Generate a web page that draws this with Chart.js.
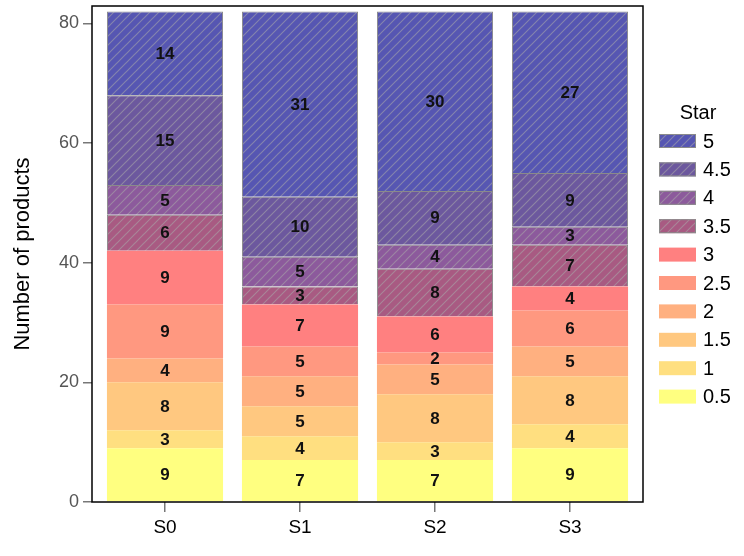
<!DOCTYPE html>
<html>
<head>
<meta charset="utf-8">
<script src="https://cdn.jsdelivr.net/npm/chart.js@4"></script>
<style>
  html, body { margin: 0; padding: 0; background: #fff; }
  #wrap { width: 744px; height: 556px; }
</style>
</head>
<body>
<div id="wrap"><canvas id="bar-chart" width="744" height="556"></canvas></div>
<script>
// data
const categories = ['S0', 'S1', 'S2', 'S3'];
const stars = ['0.5', '1', '1.5', '2', '2.5', '3', '3.5', '4', '4.5', '5'];
const s05 = [9, 7, 7, 9];
const s1 = [3, 4, 3, 4];
const s15 = [8, 5, 8, 8];
const s2 = [4, 5, 5, 5];
const s25 = [9, 5, 2, 6];
const s3 = [9, 7, 6, 4];
const s35 = [6, 3, 8, 7];
const s4 = [5, 5, 4, 3];
const s45 = [15, 10, 9, 9];
const s5 = [14, 31, 30, 27];
const yTicks = [0, 20, 40, 60, 80];

const seriesValues = [s05, s1, s15, s2, s25, s3, s35, s4, s45, s5];
const colors = ['#ffff80', '#ffdf80', '#ffc880', '#ffb080', '#ff9880', '#ff8080',
                '#a85a82', '#8c5a9c', '#6c589e', '#5656b2'];
const hatched = [false, false, false, false, false, false, true, true, true, true];
const FONT = '"Liberation Sans", Arial, sans-serif';

function hatch(color) {
  const c = document.createElement('canvas');
  c.width = 9; c.height = 9;
  const g = c.getContext('2d');
  g.fillStyle = color;
  g.fillRect(0, 0, 9, 9);
  g.strokeStyle = 'rgba(170,170,170,0.55)';
  g.lineWidth = 1.2;
  g.beginPath();
  g.moveTo(-1, 10); g.lineTo(10, -1);
  g.moveTo(-1, 1); g.lineTo(1, -1);
  g.moveTo(8, 10); g.lineTo(10, 8);
  g.stroke();
  return g.createPattern(c, 'repeat');
}

const datasets = stars.map(function(s, i) {
  return {
    label: s,
    data: seriesValues[i],
    backgroundColor: hatched[i] ? hatch(colors[i]) : colors[i],
    borderColor: hatched[i] ? '#8a8a8a' : colors[i],
    borderWidth: hatched[i] ? 1 : 0,
    barPercentage: 0.86,
    categoryPercentage: 1.0
  };
});

const extras = {
  id: 'extras',
  afterLayout(chart) {
    // bars sit a little further in from the frame than Chart.js offsets them
    const x = chart.scales.x;
    x._startPixel = chart.chartArea.left + 5.5;
    x._length = (chart.chartArea.right - chart.chartArea.left) - 11;
  },
  afterDatasetsDraw(chart) {
    const ctx = chart.ctx;
    ctx.save();
    ctx.font = 'bold 17px ' + FONT;
    ctx.fillStyle = '#111';
    ctx.textAlign = 'center';
    ctx.textBaseline = 'middle';
    chart.data.datasets.forEach(function(ds, i) {
      chart.getDatasetMeta(i).data.forEach(function(bar, j) {
        const mid = (bar.y + bar.base) / 2;
        ctx.fillText(String(ds.data[j]), bar.x, mid + 1);
      });
    });
    const a = chart.chartArea;
    ctx.strokeStyle = '#000';
    ctx.lineWidth = 1.5;
    ctx.strokeRect(a.left, a.top, a.right - a.left, a.bottom - a.top);
    ctx.restore();
  },
  afterDraw(chart) {
    const ctx = chart.ctx;
    ctx.save();
    ctx.font = '20px ' + FONT;
    ctx.fillStyle = '#000';
    ctx.textBaseline = 'middle';
    ctx.textAlign = 'center';
    ctx.fillText('Star', 698, 113);
    ctx.textAlign = 'left';
    const n = chart.data.datasets.length;
    for (let k = 0; k < n; k++) {
      const ds = chart.data.datasets[n - 1 - k];
      const y = 141 + k * 28.4;
      ctx.fillStyle = ds.backgroundColor;
      ctx.fillRect(659, y - 7, 37, 14);
      if (ds.borderWidth) {
        ctx.strokeStyle = ds.borderColor;
        ctx.lineWidth = 1;
        ctx.strokeRect(659.5, y - 6.5, 36, 13);
      }
      ctx.fillStyle = '#000';
      ctx.fillText(ds.label, 703, y + 1);
    }
    ctx.restore();
  }
};

new Chart(document.getElementById('bar-chart'), {
  type: 'bar',
  data: { labels: categories, datasets: datasets },
  options: {
    responsive: false,
    animation: false,
    layout: { padding: { top: 6, right: 101, left: 0, bottom: 0 } },
    plugins: { legend: { display: false }, tooltip: { enabled: false } },
    scales: {
      x: {
        stacked: true,
        grid: { offset: false, drawOnChartArea: false, drawTicks: true, tickLength: 10, color: '#777', lineWidth: 1.5 },
        border: { display: false },
        ticks: { color: '#000', padding: 4, maxRotation: 0, font: { size: 19, family: FONT } },
        afterFit(scale) { scale.height = 54; scale.paddingLeft = 0; scale.paddingRight = 0; }
      },
      y: {
        stacked: true,
        min: 0,
        max: 82.9,
        afterBuildTicks(scale) { scale.ticks = yTicks.map(function(v) { return { value: v }; }); },
        grid: { drawOnChartArea: false, drawTicks: true, tickLength: 9, color: '#777', lineWidth: 1.5 },
        border: { display: false },
        ticks: { color: '#555', padding: 4, includeBounds: false, font: { size: 18, family: FONT } },
        title: {
          display: true,
          text: 'Number of products',
          color: '#000',
          padding: { top: 10, bottom: 0 },
          font: { size: 22, family: FONT }
        },
        afterFit(scale) { scale.width = 92; scale.paddingTop = 0; scale.paddingBottom = 0; }
      }
    }
  },
  plugins: [extras]
});
</script>
</body>
</html>
